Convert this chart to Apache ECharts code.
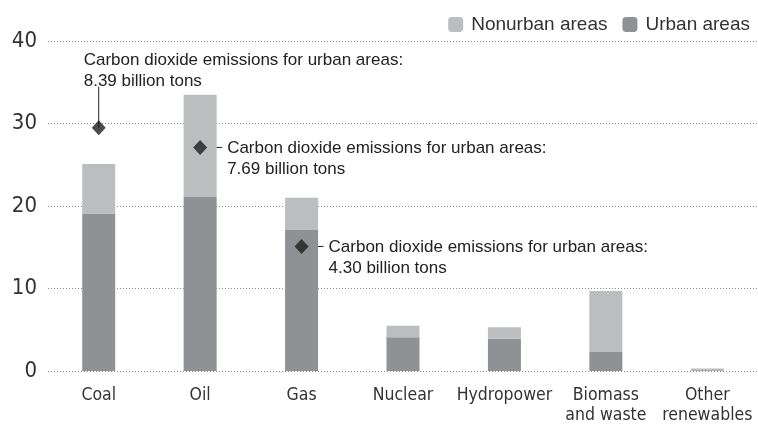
<!DOCTYPE html>
<html><head><meta charset="utf-8">
<script src="https://cdn.jsdelivr.net/npm/echarts@6/dist/echarts.min.js"></script>
<style>html,body{margin:0;padding:0;background:#fff}#c{width:758px;height:425px}</style>
</head><body><div id="c"></div>
<script>
var categories = ['Coal', 'Oil', 'Gas', 'Nuclear', 'Hydropower', 'Biomass\nand waste', 'Other\nrenewables'];
var urban = [19.1, 21.1, 17.1, 4.1, 3.9, 2.3, 0.1];
var nonurban = [6.0, 12.4, 3.9, 1.4, 1.4, 7.4, 0.2];
var markerValues = [29.5, 27.1, 15.1, null, null, null, null];
var noteLines = [
  ['Carbon dioxide emissions for urban areas:', '8.39 billion tons'],
  ['Carbon dioxide emissions for urban areas:', '7.69 billion tons'],
  ['Carbon dioxide emissions for urban areas:', '4.30 billion tons']
];
var yTicks = [0, 10, 20, 30, 40];

var chart = echarts.init(document.getElementById('c'));
var narrow = '"DejaVu Sans Condensed", "Liberation Sans Narrow", sans-serif';
chart.setOption({
  animation: false,
  legend: {
    right: 3, top: 10, itemWidth: 15, itemHeight: 15, itemGap: 15,
    textStyle: {fontFamily: '"Liberation Sans", Arial, sans-serif', fontSize: 19, color: '#333', padding: [0, 0, 0, 3]},
    data: ['Nonurban areas', 'Urban areas']
  },
  grid: {left: 48, right: 0, top: 41, bottom: 50},
  xAxis: {
    type: 'category', data: categories,
    axisLine: {show: false}, axisTick: {show: false},
    axisLabel: {interval: 0, fontFamily: narrow, fontSize: 17.5, color: '#333', lineHeight: 20, margin: 14}
  },
  yAxis: {
    type: 'value', min: 0, max: 40, interval: 10,
    axisLine: {show: false}, axisTick: {show: false},
    axisLabel: {fontFamily: narrow, fontSize: 22, color: '#333', margin: 11},
    splitLine: {lineStyle: {type: [1, 2], color: '#888', width: 1}}
  },
  series: [
    {name: 'Urban areas', type: 'bar', stack: 'a', data: urban, barWidth: 33,
     itemStyle: {color: '#909194'}},
    {name: 'Nonurban areas', type: 'bar', stack: 'a', data: nonurban, barWidth: 33,
     itemStyle: {color: '#bcbdbf'}},
    {name: 'marker', type: 'scatter', data: markerValues, symbol: 'diamond', symbolSize: [14, 15],
     itemStyle: {color: '#1e1e1e'}, z: 5}
  ]
});

function addNotes() {
  var g = [];
  var font = '17px "Liberation Sans", Arial, sans-serif';
  for (var i = 0; i < 3; i++) {
    var p = chart.convertToPixel({seriesIndex: 2}, [i, markerValues[i]]);
    if (i === 0) {
      g.push({type: 'line', shape: {x1: p[0], y1: p[1], x2: p[0], y2: p[1] - 41}, style: {stroke: '#222', lineWidth: 1}});
      g.push({type: 'text', x: p[0] - 15, y: p[1] - 57, style: {text: noteLines[i][0] + '\n' + noteLines[i][1], font: font, fill: '#222', lineHeight: 21, textVerticalAlign: 'middle'}});
    } else {
      g.push({type: 'line', shape: {x1: p[0], y1: p[1], x2: p[0] + 22, y2: p[1]}, style: {stroke: '#222', lineWidth: 1}});
      g.push({type: 'text', x: p[0] + 27, y: p[1] + 11, style: {text: noteLines[i][0] + '\n' + noteLines[i][1], font: font, fill: '#222', lineHeight: 21, textVerticalAlign: 'middle'}});
    }
  }
  chart.setOption({graphic: g});
}
addNotes();
</script></body></html>
